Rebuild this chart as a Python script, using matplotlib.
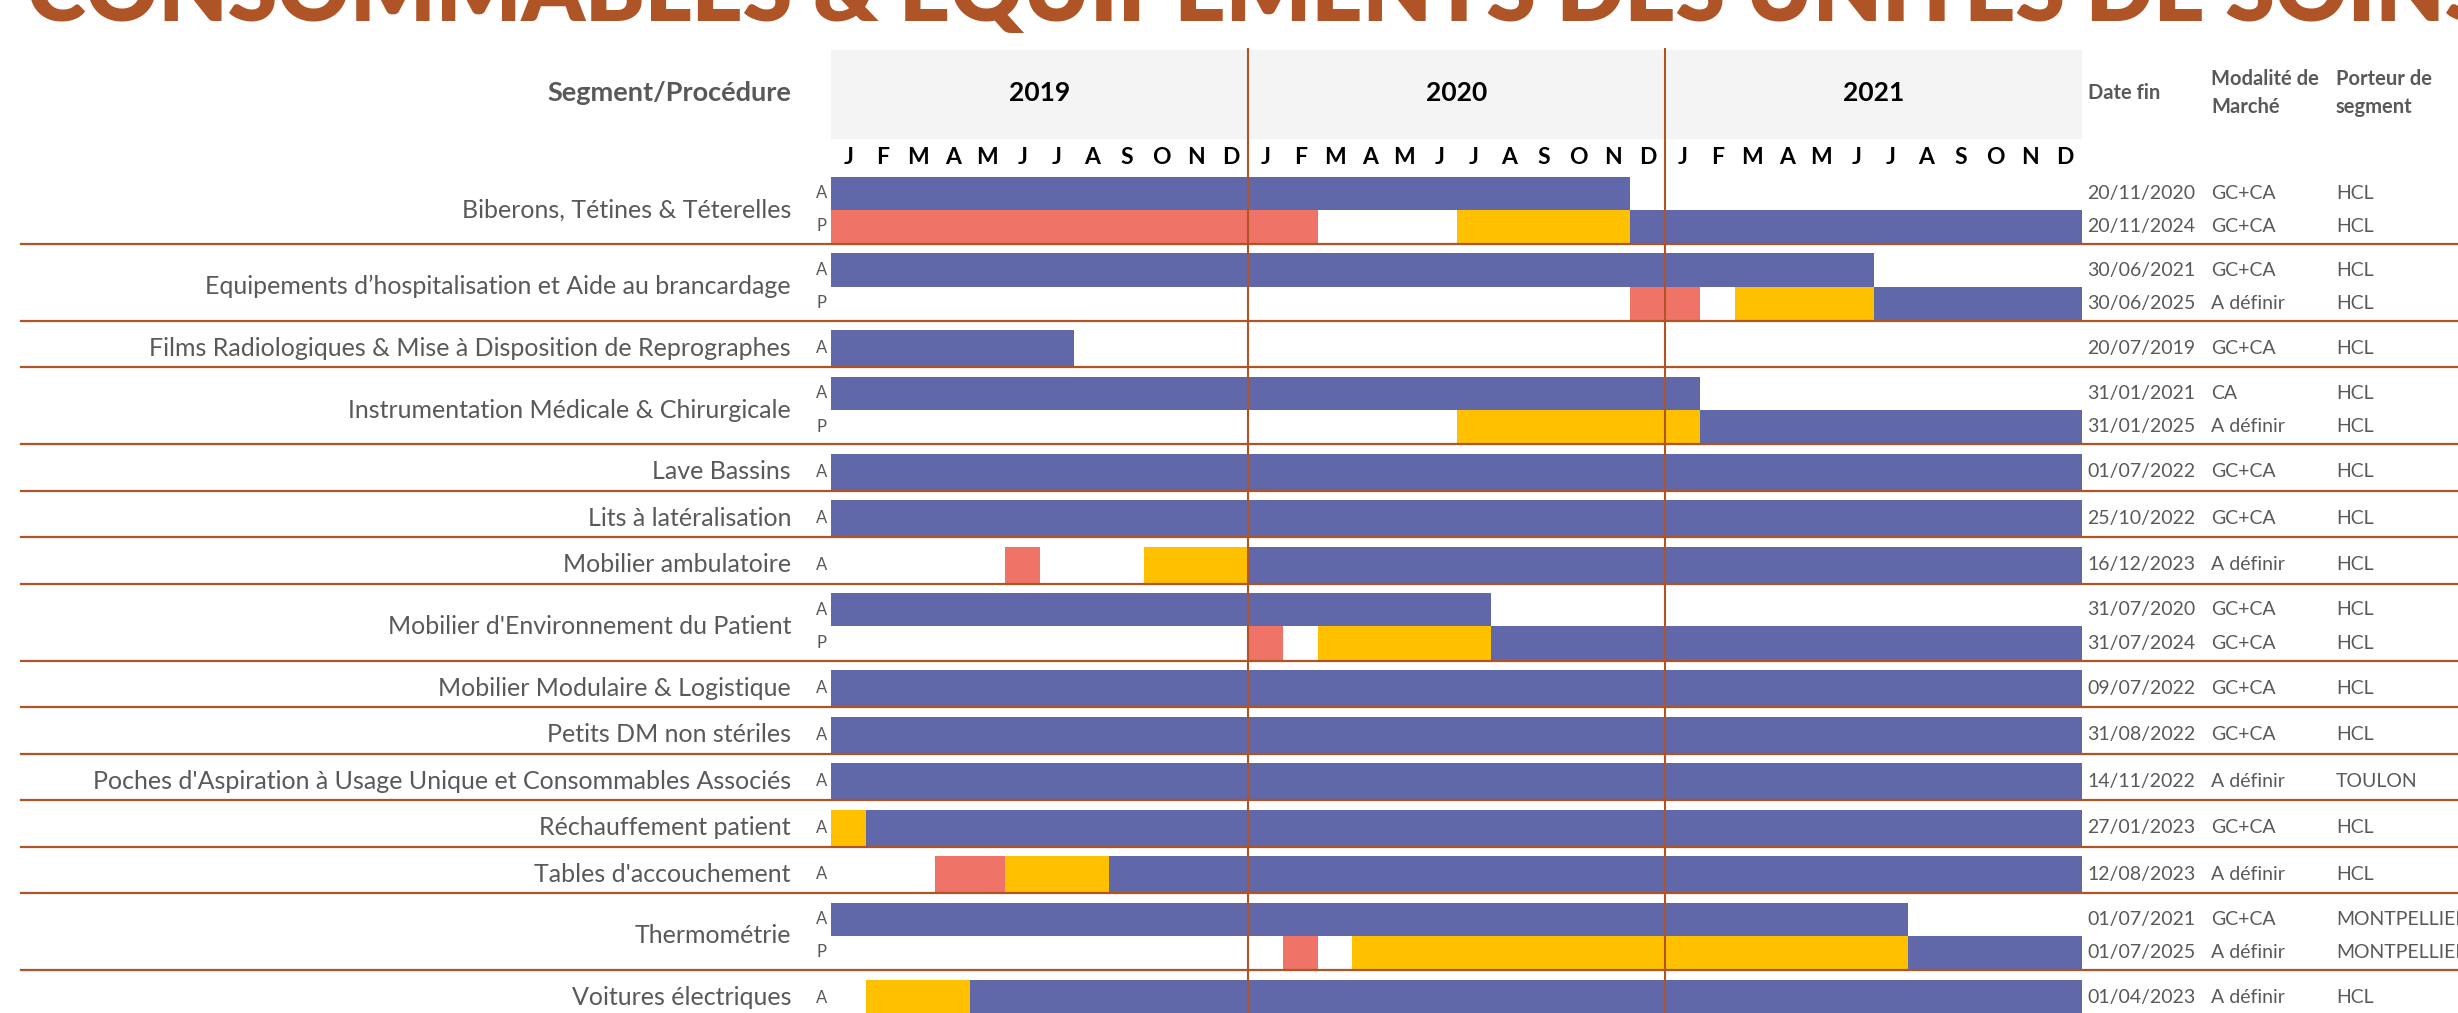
import matplotlib
matplotlib.use("Agg")
import matplotlib.pyplot as plt
import matplotlib.transforms as mtransforms
from matplotlib import font_manager
from matplotlib.patches import Rectangle

##### donnees
title = "CONSOMMABLES & EQUIPEMENTS DES UNITES DE SOINS"
years = ["2019", "2020", "2021"]
months = ["J", "F", "M", "A", "M", "J", "J", "A", "S", "O", "N", "D"]

segments = [
    "Biberons, Tétines & Téterelles",
    "Equipements d’hospitalisation et Aide au brancardage",
    "Films Radiologiques & Mise à Disposition de Reprographes",
    "Instrumentation Médicale & Chirurgicale",
    "Lave Bassins",
    "Lits à latéralisation",
    "Mobilier ambulatoire",
    "Mobilier d'Environnement du Patient",
    "Mobilier Modulaire & Logistique",
    "Petits DM non stériles",
    "Poches d'Aspiration à Usage Unique et Consommables Associés",
    "Réchauffement patient",
    "Tables d'accouchement",
    "Thermométrie",
    "Voitures électriques",
]
phases = [["A", "P"], ["A", "P"], ["A"], ["A", "P"], ["A"], ["A"], ["A"],
          ["A", "P"], ["A"], ["A"], ["A"], ["A"], ["A"], ["A", "P"], ["A"]]

# mois depuis janvier 2019 (debut, fin exclue, etat) : b = en cours, r = rouge, j = jaune
timeline = [
    [[(0, 23, "b")], [(0, 14, "r"), (18, 23, "j"), (23, 36, "b")]],
    [[(0, 30, "b")], [(23, 25, "r"), (26, 30, "j"), (30, 36, "b")]],
    [[(0, 7, "b")]],
    [[(0, 25, "b")], [(18, 25, "j"), (25, 36, "b")]],
    [[(0, 36, "b")]],
    [[(0, 36, "b")]],
    [[(5, 6, "r"), (9, 12, "j"), (12, 36, "b")]],
    [[(0, 19, "b")], [(12, 13, "r"), (14, 19, "j"), (19, 36, "b")]],
    [[(0, 36, "b")]],
    [[(0, 36, "b")]],
    [[(0, 36, "b")]],
    [[(0, 1, "j"), (1, 36, "b")]],
    [[(3, 5, "r"), (5, 8, "j"), (8, 36, "b")]],
    [[(0, 31, "b")], [(13, 14, "r"), (15, 31, "j"), (31, 36, "b")]],
    [[(1, 4, "j"), (4, 36, "b")]],
]

date_fin = [["20/11/2020", "20/11/2024"], ["30/06/2021", "30/06/2025"], ["20/07/2019"],
            ["31/01/2021", "31/01/2025"], ["01/07/2022"], ["25/10/2022"], ["16/12/2023"],
            ["31/07/2020", "31/07/2024"], ["09/07/2022"], ["31/08/2022"], ["14/11/2022"],
            ["27/01/2023"], ["12/08/2023"], ["01/07/2021", "01/07/2025"], ["01/04/2023"]]
modalite = [["GC+CA", "GC+CA"], ["GC+CA", "A définir"], ["GC+CA"], ["CA", "A définir"],
            ["GC+CA"], ["GC+CA"], ["A définir"], ["GC+CA", "GC+CA"], ["GC+CA"], ["GC+CA"],
            ["A définir"], ["GC+CA"], ["A définir"], ["GC+CA", "A définir"], ["A définir"]]
porteur = [["HCL", "HCL"], ["HCL", "HCL"], ["HCL"], ["HCL", "HCL"], ["HCL"], ["HCL"], ["HCL"],
           ["HCL", "HCL"], ["HCL"], ["HCL"], ["TOULON"], ["HCL"], ["HCL"],
           ["MONTPELLIER", "MONTPELLIER"], ["HCL"]]

##### style
colors = {"b": "#6068AA", "r": "#F07367", "j": "#FFC000"}
brown = "#AF5426"
grey = "#595959"

names = {f.name for f in font_manager.fontManager.ttflist}
body = "Lato" if "Lato" in names else "DejaVu Sans"
plt.rcParams["font.family"] = [body, "DejaVu Sans"]

W, H = 2458, 1013
fig = plt.figure(figsize=(W / 100, H / 100), dpi=100)
x0, x1 = 831, 2082
ax = fig.add_axes([x0 / W, 0, (x1 - x0) / W, 1])
ax.set_xlim(0, 36)
ax.set_ylim(H, 0)   # y en pixels depuis le haut
ax.axis("off")
tx = mtransforms.blended_transform_factory(fig.transFigure, ax.transData)

# titre coupe en haut, comme sur la capture
t = fig.text(27 / W, 1 - 21 / H, title, ha="left", va="baseline", color=brown,
             fontsize=70, fontweight="heavy")
r = fig.canvas.get_renderer()
t.set_fontsize(70 * 2473 / t.get_window_extent(r).width)

# entete
ax.add_patch(Rectangle((0, 50), 36, 88, color="#F4F4F4", zorder=0))
for i, yr in enumerate(years):
    ax.text(12 * i + 6, 93, yr, ha="center", va="center", fontsize=19, fontweight="bold", color="black")
for i in range(36):
    ax.text(i + 0.5, 157, months[i % 12], ha="center", va="center", fontsize=16.5,
            fontweight="bold", color="black")
fig.text(791 / W, 1 - 93 / H, "Segment/Procédure", ha="right", va="center", fontsize=19.5,
         fontweight="bold", color=grey)
for xp, lab in [(2088, "Date fin"), (2211, "Modalité de\nMarché"), (2336, "Porteur de\nsegment")]:
    fig.text(xp / W, 1 - 93 / H, lab, ha="left", va="center", fontsize=14.5,
             fontweight="bold", color=grey, linespacing=1.45)

# lignes
y = 166
gap, h1, h2 = 10.5, 36, 33.2
for k, seg in enumerate(segments):
    n = len(phases[k])
    bh = h1 if n == 1 else h2
    top = y + gap
    for j in range(n):
        yc = top + bh * (j + 0.5)
        for (s, e, st) in timeline[k][j]:
            ax.barh(yc, e - s, left=s, height=bh, color=colors[st], linewidth=0, zorder=2)
        ax.text(816 / W, yc, phases[k][j], transform=tx, ha="left", va="center",
                fontsize=12, color=grey)
        ax.text(2087 / W, yc, date_fin[k][j], transform=tx, ha="left", va="center",
                fontsize=14, color=grey)
        ax.text(2211 / W, yc, modalite[k][j], transform=tx, ha="left", va="center",
                fontsize=14, color=grey)
        ax.text(2336 / W, yc, porteur[k][j], transform=tx, ha="left", va="center",
                fontsize=14, color=grey)
    ax.text(791 / W, top + bh * n / 2, seg, transform=tx, ha="right", va="center",
            fontsize=18, color=grey)
    y = top + bh * n
    ax.plot([21 / W, 1], [y + 1, y + 1], transform=tx, color=brown, lw=1.6,
            clip_on=False, zorder=3)

ax.vlines([12, 24], 48, H, color=brown, lw=1.5, zorder=4)

fig.savefig("out.png", dpi=100)
